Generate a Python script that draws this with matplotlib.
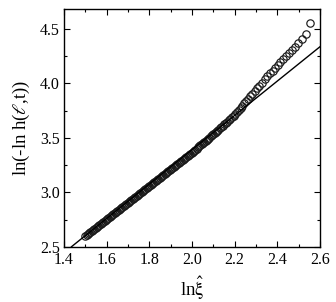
import matplotlib
matplotlib.use("Agg")
import matplotlib.pyplot as plt
from matplotlib.ticker import MultipleLocator

plt.rcParams['font.family'] = ['Liberation Serif', 'DejaVu Serif']
plt.rcParams['mathtext.fontset'] = 'stix'

# lower dense part of the data (x step 0.006 from 1.500)
x_low = [1.500, 1.506, 1.512, 1.518, 1.524, 1.530, 1.536, 1.542, 1.548, 1.554,
         1.560, 1.566, 1.572, 1.578, 1.584, 1.590, 1.596, 1.602, 1.608, 1.614,
         1.620, 1.626, 1.632, 1.638, 1.644, 1.650, 1.656, 1.662, 1.668, 1.674,
         1.680, 1.686, 1.692, 1.698, 1.704, 1.710, 1.716, 1.722, 1.728, 1.734,
         1.740, 1.746, 1.752, 1.758, 1.764, 1.770, 1.776, 1.782, 1.788, 1.794,
         1.800, 1.806, 1.812, 1.818, 1.824, 1.830, 1.836, 1.842, 1.848, 1.854,
         1.860, 1.866, 1.872, 1.878, 1.884, 1.890, 1.896, 1.902, 1.908, 1.914,
         1.920, 1.926, 1.932, 1.938, 1.944, 1.950, 1.956, 1.962, 1.968, 1.974,
         1.980, 1.986, 1.992]
y_low = [2.602, 2.611, 2.621, 2.630, 2.639, 2.648, 2.657, 2.666, 2.675, 2.684,
         2.693, 2.702, 2.711, 2.720, 2.729, 2.738, 2.747, 2.756, 2.765, 2.775,
         2.784, 2.793, 2.802, 2.811, 2.820, 2.829, 2.838, 2.847, 2.856, 2.865,
         2.874, 2.883, 2.892, 2.901, 2.910, 2.919, 2.928, 2.937, 2.947, 2.956,
         2.965, 2.974, 2.983, 2.992, 3.001, 3.010, 3.019, 3.028, 3.037, 3.046,
         3.055, 3.065, 3.074, 3.083, 3.092, 3.102, 3.111, 3.120, 3.130, 3.139,
         3.148, 3.158, 3.167, 3.176, 3.185, 3.195, 3.204, 3.213, 3.223, 3.232,
         3.241, 3.251, 3.260, 3.269, 3.278, 3.288, 3.297, 3.306, 3.316, 3.325,
         3.334, 3.344, 3.353]

# upper part of the data
x_high = [1.998, 2.004, 2.010, 2.016, 2.022, 2.028, 2.034, 2.040, 2.046, 2.052,
          2.058, 2.064, 2.070, 2.076, 2.082, 2.088, 2.094, 2.100, 2.106, 2.112,
          2.118, 2.124, 2.130, 2.137, 2.144, 2.151, 2.158, 2.165, 2.172, 2.179,
          2.187, 2.195, 2.203, 2.211, 2.219, 2.228, 2.237, 2.246, 2.255, 2.264,
          2.274, 2.284, 2.294, 2.305, 2.316, 2.328, 2.341, 2.353, 2.366, 2.378,
          2.389, 2.402, 2.414, 2.428, 2.441, 2.453, 2.469, 2.483, 2.498, 2.516,
          2.536, 2.553]
y_high = [3.362, 3.372, 3.382, 3.392, 3.402, 3.412, 3.422, 3.432, 3.443, 3.453,
          3.463, 3.473, 3.483, 3.493, 3.503, 3.513, 3.523, 3.533, 3.544, 3.554,
          3.565, 3.576, 3.586, 3.599, 3.611, 3.624, 3.636, 3.649, 3.661, 3.673,
          3.688, 3.702, 3.722, 3.740, 3.757, 3.777, 3.796, 3.816, 3.836, 3.858,
          3.882, 3.905, 3.929, 3.955, 3.980, 4.007, 4.037, 4.064, 4.092, 4.118,
          4.142, 4.170, 4.195, 4.224, 4.251, 4.276, 4.309, 4.338, 4.370, 4.408,
          4.450, 4.552]

# straight fit line end points
fit_x = [1.435, 2.600]
fit_y = [2.500, 4.336]

x_ticks = [1.4, 1.6, 1.8, 2.0, 2.2, 2.4, 2.6]
y_ticks = [2.5, 3.0, 3.5, 4.0, 4.5]

fig = plt.figure(figsize=(3.36, 3.02), dpi=100)
ax = fig.add_axes([0.1905, 0.183, 0.7615, 0.786])

ax.plot(x_low + x_high, y_low + y_high, linestyle='none', marker='o',
        markersize=5.3, markerfacecolor='none', markeredgecolor='#1a1a1a',
        markeredgewidth=0.85)
ax.plot(fit_x, fit_y, color='black', linewidth=1.0)

ax.set_xlim(1.4, 2.6)
ax.set_ylim(2.5, 4.68)
ax.set_xticks(x_ticks)
ax.set_yticks(y_ticks)
ax.set_xticklabels([f"{v:.1f}" for v in x_ticks])
ax.set_yticklabels([f"{v:.1f}" for v in y_ticks])
ax.xaxis.set_minor_locator(MultipleLocator(0.1))
ax.yaxis.set_minor_locator(MultipleLocator(0.25))
ax.tick_params(which='both', direction='in', top=True, right=True,
               labelsize=11.5, width=0.8)
ax.tick_params(axis='x', which='both', pad=3.5)
ax.tick_params(axis='y', which='both', pad=3)
ax.tick_params(which='major', length=4)
ax.tick_params(which='minor', length=2.5)
for s in ax.spines.values():
    s.set_linewidth(1.0)

ax.set_xlabel(r'ln$\hat{\mathrm{\xi}}$', fontsize=13.5, labelpad=5)
ax.set_ylabel(r'ln(-ln h($\ell$,t))', fontsize=13.5, labelpad=6)

fig.savefig('out.png', dpi=100)
